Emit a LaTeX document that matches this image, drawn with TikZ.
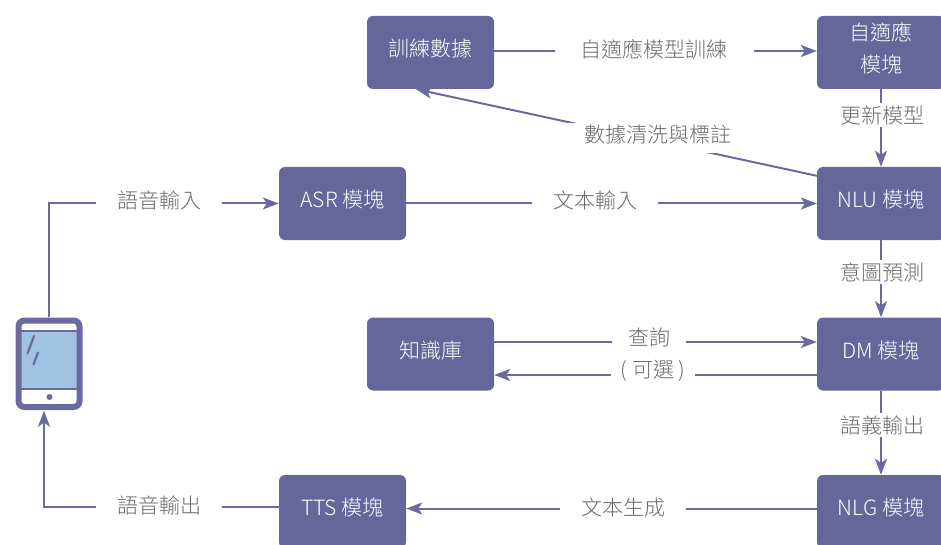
\documentclass[tikz,border=0pt]{standalone}
\usepackage{fontspec}
\setmainfont{Noto Sans CJK TC}[UprightFont=* Light]
\usetikzlibrary{arrows.meta}
\definecolor{boxc}{HTML}{66669A}
\definecolor{linec}{HTML}{6A6A9E}
\definecolor{screenc}{HTML}{9FC3E0}
\definecolor{txtc}{HTML}{6A6A6A}
\newcommand{\bt}[1]{\raisebox{-4pt}[0pt][0pt]{#1}}
\tikzset{
 x=1pt,y=-1pt,
 modbox/.style={fill=boxc,rounded corners=6pt,minimum width=127pt,minimum height=73pt,inner sep=0pt,text=white,font=\fontsize{21}{25}\selectfont,anchor=center},
 conn/.style={draw=linec,line width=2pt,-{Stealth[length=16pt,width=12pt,inset=4pt]}},
 hlbl/.style={fill=white,text=txtc,inner xsep=21pt,inner ysep=2pt,font=\fontsize{21}{25}\selectfont},
 vlbl/.style={fill=white,text=txtc,inner xsep=1pt,inner ysep=2pt,font=\fontsize{21}{25}\selectfont},
 phonepart/.style={draw=linec,line cap=round},
}
\begin{document}
\begin{tikzpicture}
\useasboundingbox (0,0) rectangle (941,545);
\clip (0,0) rectangle (941,545);
\node[modbox] (train) at (430.5,52.5) {\bt{訓練數據}};
\node[modbox,minimum width=128pt] (adapt) at (881,52.5) {\raisebox{-4pt}[0pt][0pt]{\begin{tabular}{@{}c@{}}自適應\\[7pt]模塊\end{tabular}}};
\node[modbox] (asr) at (342.5,203.5) {\bt{ASR 模塊}};
\node[modbox,minimum width=128pt] (nlu) at (881,203.5) {\bt{NLU 模塊}};
\node[modbox] (kb) at (430.5,354) {\bt{知識庫}};
\node[modbox,minimum width=128pt] (dm) at (881,354) {\bt{DM 模塊}};
\node[modbox] (tts) at (342.5,511.5) {\bt{TTS 模塊}};
\node[modbox,minimum width=128pt] (nlg) at (881,511.5) {\bt{NLG 模塊}};
% phone
\node[minimum width=68pt,minimum height=93pt,inner sep=0pt] (phone) at (49,364) {};
\fill[screenc] (21,332) rectangle (77,388);
\draw[linec,line width=2pt] (20,331) -- (78,331) (20,389) -- (78,389);
\draw[linec,line width=6pt,rounded corners=6pt] (18.5,320.5) rectangle (79.5,407);
\fill[linec] (49.5,397) circle (3pt);
\draw[phonepart,line width=2.2pt] (34,336) -- (27.5,353.5) (38,352.5) -- (33.5,364.5);
% connectors
\draw[conn] ([yshift=1.5pt]train.east) -- ([yshift=1.5pt]adapt.west);
\draw[conn] (adapt.south) -- (nlu.north);
\draw[conn] ([yshift=-9pt]nlu.north west) -- ([xshift=-14.5pt]train.south);
\draw[conn] (phone.north) |- (asr.west);
\draw[conn] (asr.east) -- (nlu.west);
\draw[conn] (nlu.south) -- (dm.north);
\draw[conn] ([yshift=12pt]kb.east) -- ([yshift=12pt]dm.west);
\draw[conn] ([yshift=-21pt]dm.west) -- ([yshift=-21pt]kb.east);
\draw[conn] (dm.south) -- (nlg.north);
\draw[conn] ([yshift=3pt]nlg.west) -- ([yshift=3pt]tts.east);
\draw[conn] ([yshift=5pt]tts.west) -| ([xshift=-5pt]phone.south);
% labels
\node[hlbl,inner xsep=26pt] (l1) at (654,49) {自適應模型訓練};
\node[vlbl] (l2) at (882,115) {更新模型};
\node[hlbl,inner xsep=26pt,inner ysep=0pt,text height=20pt,text depth=10pt] (l3) at (658,138) {數據清洗與標註};
\node[hlbl] (l4) at (159,200) {語音輸入};
\node[hlbl] (l5) at (595,200) {文本輸入};
\node[vlbl] (l6) at (882,272) {意圖預測};
\node[hlbl,inner xsep=16pt] (l7) at (649,337) {查詢};
\node[hlbl,inner xsep=10pt] (l8) at (653,371) {( 可選 )};
\node[vlbl] (l9) at (882,425) {語義輸出};
\node[hlbl] (l10) at (623,508) {文本生成};
\node[hlbl] (l11) at (159,505) {語音輸出};
\end{tikzpicture}
\end{document}
